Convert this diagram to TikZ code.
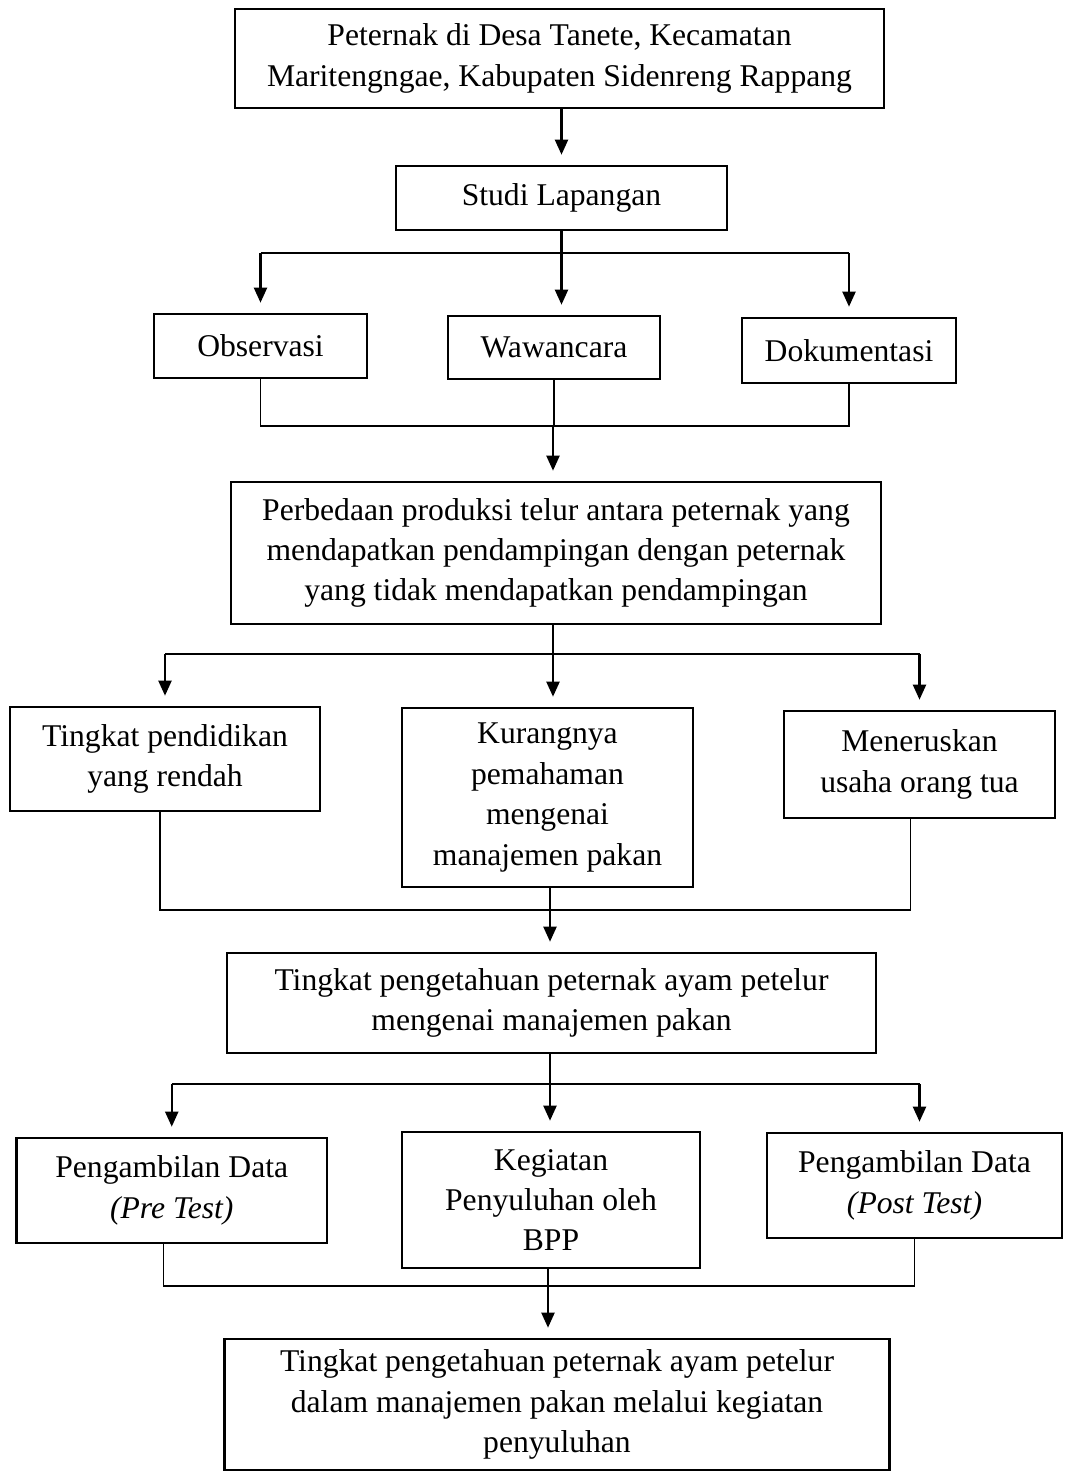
\documentclass[tikz,border=0pt]{standalone}
\usepackage{fontspec}
\setmainfont{Liberation Serif}
\usetikzlibrary{arrows.meta}

\begin{document}
\begin{tikzpicture}[
    box/.style={
        draw,
        line width=1.5pt,
        align=center,
        anchor=center,
        inner sep=2pt,
        font=\fontsize{18}{23}\selectfont
    },
    arrow/.style={-{Triangle[length=0.3cm,width=0.26cm]}, line width=1.2pt, shorten >=0.2cm},
    line/.style={line width=0.6pt}
]
\useasboundingbox (0,0) rectangle (21.42,-29.44);

% Start and field study
\node[box, minimum width=12.98cm, minimum height=1.98cm] (desa) at (11.19,-1.17)
    {Peternak di Desa Tanete, Kecamatan\\Maritengngae, Kabupaten Sidenreng Rappang};
\node[box, minimum width=6.62cm, minimum height=1.28cm] (studi) at (11.23,-3.96) {Studi Lapangan};

% Methods row
\node[box, minimum width=4.26cm, minimum height=1.28cm] (obs) at (5.21,-6.92)  {Observasi};
\node[box, minimum width=4.24cm, minimum height=1.26cm] (waw) at (11.08,-6.95) {Wawancara};
\node[box, minimum width=4.28cm, minimum height=1.30cm] (dok) at (16.98,-7.01) {Dokumentasi};

% Problem statement
\node[box, minimum width=13.00cm, minimum height=2.84cm] (beda) at (11.12,-11.06)
    {Perbedaan produksi telur antara peternak yang\\mendapatkan pendampingan dengan peternak\\yang tidak mendapatkan pendampingan};

% Causes row
\node[box, minimum width=6.20cm, minimum height=2.08cm] (didik) at (3.30,-15.18)  {Tingkat pendidikan\\yang rendah};
\node[box, minimum width=5.82cm, minimum height=3.58cm] (paham) at (10.95,-15.95) {Kurangnya\\pemahaman\\mengenai\\manajemen pakan};
\node[box, minimum width=5.42cm, minimum height=2.14cm] (terus) at (18.39,-15.29) {Meneruskan\\usaha orang tua};

% Knowledge level
\node[box, minimum width=12.98cm, minimum height=2.00cm] (tahu) at (11.03,-20.06)
    {Tingkat pengetahuan peternak ayam petelur\\mengenai manajemen pakan};

% Extension row
\node[box, minimum width=6.21cm, minimum height=2.10cm] (pre)   at (3.435,-23.81) {Pengambilan Data\\\textit{(Pre Test)}};
\node[box, minimum width=5.96cm, minimum height=2.72cm] (suluh) at (11.02,-24.00) {Kegiatan\\Penyuluhan oleh\\BPP};
\node[box, minimum width=5.90cm, minimum height=2.10cm] (post)  at (18.29,-23.71) {Pengambilan Data\\\textit{(Post Test)}};

% Result
\node[box, minimum width=13.29cm, minimum height=2.62cm] (hasil) at (11.14,-28.09)
    {Tingkat pengetahuan peternak ayam petelur\\dalam manajemen pakan melalui kegiatan\\penyuluhan};

% Split and join points
\coordinate (split1) at (11.2,-5.06);
\coordinate (join1)  at (11.06,-8.52);
\coordinate (split2) at (11.06,-13.08);
\coordinate (join2)  at (11.0,-18.2);
\coordinate (split3) at (11.0,-21.68);
\coordinate (join3)  at (10.96,-25.72);

% Start -> field study -> methods
\draw[arrow] (desa.south -| studi) -- (studi.north);
\draw[line]  (obs.north |- split1) -- (dok.north |- split1);
\draw[arrow] (obs.north |- split1) -- (obs.north);
\draw[arrow] (studi.south) -- (studi.south |- waw.north);
\draw[arrow] (dok.north |- split1) -- (dok.north);

% Methods -> problem
\draw[line]  (obs.south) |- (join1) -| (dok.south);
\draw[line]  (waw.south) -- (waw.south |- join1);
\draw[arrow] (join1) -- (join1 |- beda.north);

% Problem -> causes
\draw[line]  (didik.north |- split2) -- (terus.north |- split2);
\draw[arrow] (didik.north |- split2) -- (didik.north);
\draw[arrow] (beda.south -| split2) -- (split2 |- paham.north);
\draw[arrow] (terus.north |- split2) -- (terus.north);

% Causes -> knowledge level
\draw[line]  ([xshift=-0.1cm]didik.south) |- (join2) -| ([xshift=-0.18cm]terus.south);
\draw[arrow] (paham.south -| join2) -- (join2 |- tahu.north);

% Knowledge level -> extension
\draw[line]  (pre.north |- split3) -- ([xshift=0.1cm]post.north |- split3);
\draw[arrow] (pre.north |- split3) -- (pre.north);
\draw[arrow] (tahu.south -| split3) -- (split3 |- suluh.north);
\draw[arrow] ([xshift=0.1cm]post.north |- split3) -- ([xshift=0.1cm]post.north);

% Extension -> result
\draw[line]  ([xshift=-0.16cm]pre.south) |- (join3) -| (post.south);
\draw[arrow] (suluh.south -| join3) -- (join3 |- hasil.north);

\end{tikzpicture}
\end{document}
